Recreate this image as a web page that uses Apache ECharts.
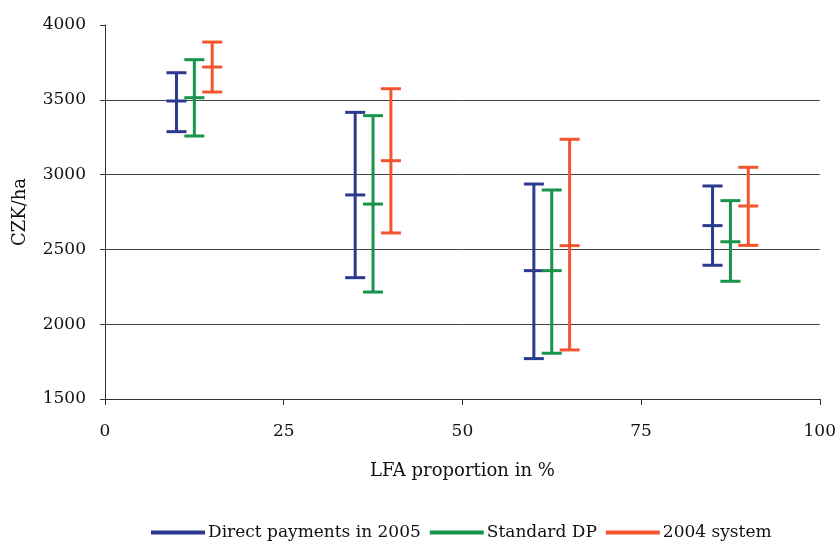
<!DOCTYPE html>
<html>
<head>
<meta charset="utf-8">
<script src="https://cdn.jsdelivr.net/npm/echarts@6/dist/echarts.min.js"></script>
<style>html,body{margin:0;padding:0;background:#fff}#c{width:839px;height:543px}</style>
</head>
<body>
<div id="c"></div>
<script>
const seriesNames = ['Direct payments in 2005', 'Standard DP', '2004 system'];
const colors = ['#2B3A8F', '#17934A', '#F2542D'];
const xTicks = [0, 25, 50, 75, 100];
const yTicks = [1500, 2000, 2500, 3000, 3500, 4000];

const directX = [10, 35, 60, 85];
const directLow = [3287, 2311, 1770, 2394];
const directMid = [3492, 2864, 2358, 2659];
const directHigh = [3681, 3416, 2937, 2924];

const standardX = [12.5, 37.5, 62.5, 87.5];
const standardLow = [3258, 2215, 1806, 2287];
const standardMid = [3514, 2803, 2358, 2551];
const standardHigh = [3768, 3394, 2897, 2826];

const sys2004X = [15, 40, 65, 90];
const sys2004Low = [3552, 2610, 1828, 2527];
const sys2004Mid = [3719, 3093, 2525, 2790];
const sys2004High = [3886, 3574, 3236, 3049];

const groups = [
  [directX, directLow, directMid, directHigh],
  [standardX, standardLow, standardMid, standardHigh],
  [sys2004X, sys2004Low, sys2004Mid, sys2004High]
];

const font = '"DejaVu Serif", "Liberation Serif", serif';
const fs = 17;
const capHalf = 10;

function renderItem(params, api) {
  const x = api.value(0);
  const lo = api.coord([x, api.value(1)]);
  const mi = api.coord([x, api.value(2)]);
  const hi = api.coord([x, api.value(3)]);
  const style = { stroke: api.visual('color'), lineWidth: 3, lineCap: 'butt' };
  const cx = lo[0];
  return {
    type: 'group',
    children: [
      { type: 'line', shape: { x1: cx, y1: lo[1], x2: cx, y2: hi[1] }, style: style },
      { type: 'line', shape: { x1: cx - capHalf, y1: lo[1], x2: cx + capHalf, y2: lo[1] }, style: style },
      { type: 'line', shape: { x1: cx - capHalf, y1: mi[1], x2: cx + capHalf, y2: mi[1] }, style: style },
      { type: 'line', shape: { x1: cx - capHalf, y1: hi[1], x2: cx + capHalf, y2: hi[1] }, style: style }
    ]
  };
}

const series = groups.map((g, i) => ({
  name: seriesNames[i],
  type: 'custom',
  renderItem: renderItem,
  itemStyle: { color: colors[i] },
  encode: { x: 0, y: [1, 2, 3] },
  data: g[0].map((x, k) => [x, g[1][k], g[2][k], g[3][k]]),
  clip: false
}));

const chart = echarts.init(document.getElementById('c'), null, { renderer: 'canvas' });
chart.setOption({
  animation: false,
  backgroundColor: '#fff',
  grid: { left: 105, right: 17, top: 25, bottom: 144 },
  legend: {
    bottom: -3,
    left: 146,
    icon: 'rect',
    itemWidth: 54,
    itemHeight: 4,
    itemGap: 9,
    textStyle: { fontFamily: font, fontSize: fs, color: '#111', padding: [0, 0, 0, -2] },
    data: seriesNames
  },
  xAxis: {
    type: 'value',
    min: xTicks[0],
    max: xTicks[xTicks.length - 1],
    interval: 25,
    name: 'LFA proportion in %',
    nameLocation: 'middle',
    nameGap: 63,
    nameTextStyle: { fontFamily: font, fontSize: 18, color: '#111' },
    axisLine: { show: true, lineStyle: { color: '#333', width: 1 } },
    axisTick: { show: true, length: 6, lineStyle: { color: '#333' } },
    axisLabel: { fontFamily: font, fontSize: fs, color: '#111', margin: 24 },
    splitLine: { show: false }
  },
  yAxis: {
    type: 'value',
    min: yTicks[0],
    max: yTicks[yTicks.length - 1],
    interval: 500,
    name: 'CZK/ha',
    nameLocation: 'middle',
    nameGap: 76,
    nameTextStyle: { fontFamily: font, fontSize: 18, color: '#111' },
    axisLine: { show: true, lineStyle: { color: '#333', width: 1 } },
    axisTick: { show: true, length: 5, lineStyle: { color: '#333' } },
    axisLabel: { fontFamily: font, fontSize: fs, color: '#111', margin: 19, formatter: v => String(v) },
    splitLine: { show: true, lineStyle: { color: ['#333', '#444', '#444', '#444', '#444', 'rgba(0,0,0,0)'], width: 1 } }
  },
  series: series
});
</script>
</body>
</html>
